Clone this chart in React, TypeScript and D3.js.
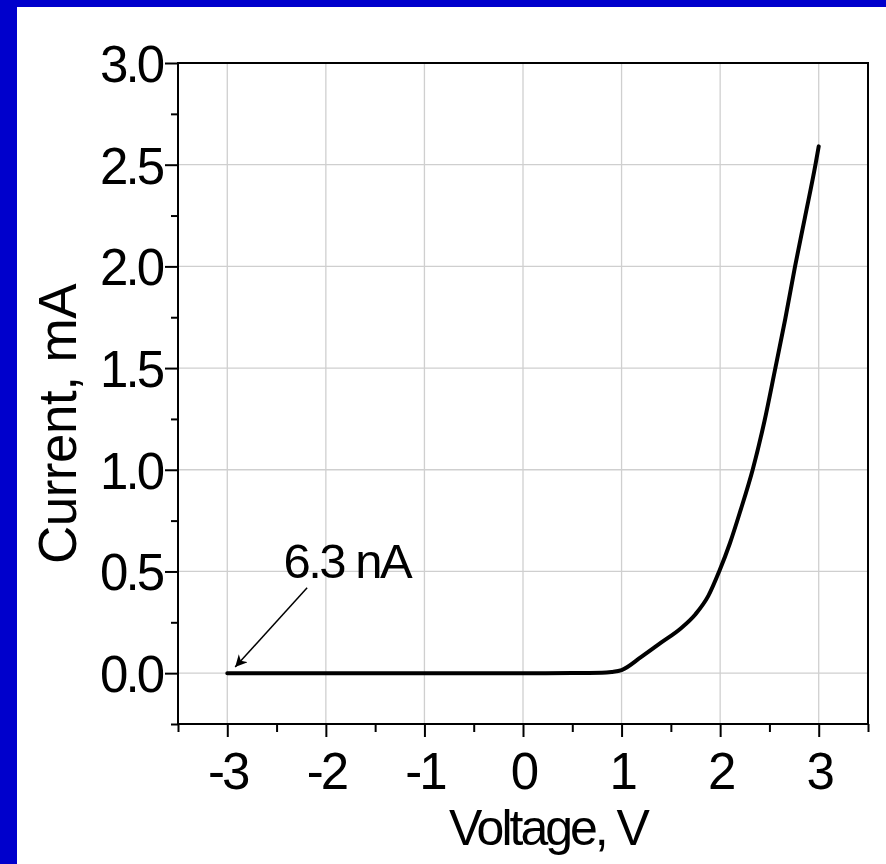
import { useEffect, useRef } from 'react'
import * as d3 from 'd3'

// I-V curve (V, mA)
const voltage = [-3, -2, -1, 0, 0.5, 0.8, 0.9, 1.0, 1.2, 1.4, 1.6, 1.75, 1.88, 1.99, 2.1, 2.2, 2.33, 2.45, 2.56, 2.66, 2.76, 2.86, 2.967, 3.0]
const current = [0, 0, 0, 0, 0.0005, 0.002, 0.006, 0.015, 0.08, 0.15, 0.22, 0.29, 0.38, 0.5, 0.64, 0.79, 1.0, 1.24, 1.5, 1.74, 2.0, 2.24, 2.5, 2.59]

const xTicks = [-3, -2, -1, 0, 1, 2, 3]
const yTicks = [0, 0.5, 1.0, 1.5, 2.0, 2.5, 3.0]

const annotationText = '6.3 nA'
const annotationAt = [-2.43, 0.47] // text start (V, mA)
const arrowFrom = [-2.19, 0.42]
const arrowTo = [-2.92, 0.03]

const W = 886
const H = 864
const FONT = '"Liberation Sans", Arial, sans-serif'

export default function App() {
  const svgRef = useRef<SVGSVGElement | null>(null)

  useEffect(() => {
    const svg = d3.select(svgRef.current)
    svg.selectAll('*').remove()

    const margin = { top: 63, right: 18, bottom: 140, left: 178 }
    const innerW = W - margin.left - margin.right
    const innerH = H - margin.top - margin.bottom

    const x = d3.scaleLinear().domain([-3.5, 3.5]).range([0, innerW])
    const y = d3.scaleLinear().domain([-0.25, 3.0]).range([innerH, 0])

    // background + blue frame strips
    svg.append('rect').attr('width', W).attr('height', H).attr('fill', '#fff')
    svg.append('rect').attr('x', 0).attr('y', 0).attr('width', W).attr('height', 7).attr('fill', '#0000cc')
    svg.append('rect').attr('x', 0).attr('y', 0).attr('width', 17).attr('height', H).attr('fill', '#0000cc')

    const g = svg.append('g').attr('transform', `translate(${margin.left},${margin.top})`)

    // grid
    g.append('g')
      .selectAll('line')
      .data(xTicks)
      .join('line')
      .attr('x1', (d) => x(d)).attr('x2', (d) => x(d))
      .attr('y1', 0).attr('y2', innerH)
      .attr('stroke', '#cfcfcf').attr('stroke-width', 1.3)
    g.append('g')
      .selectAll('line')
      .data(yTicks)
      .join('line')
      .attr('x1', 0).attr('x2', innerW)
      .attr('y1', (d) => y(d)).attr('y2', (d) => y(d))
      .attr('stroke', '#cfcfcf').attr('stroke-width', 1.3)

    // minor ticks
    const xMinor = d3.range(-3.5, 3.51, 0.5).filter((d) => !xTicks.includes(d))
    const yMinor = d3.range(-0.25, 3.0, 0.25).filter((d) => !yTicks.some((t) => Math.abs(t - d) < 1e-6))

    g.append('g')
      .attr('transform', `translate(0,${innerH})`)
      .call(d3.axisBottom(x).tickValues(xMinor).tickSize(8).tickFormat(() => ''))
      .call((ax) => ax.select('.domain').remove())
      .call((ax) => ax.selectAll('.tick line').attr('stroke', '#000').attr('stroke-width', 2))
    g.append('g')
      .call(d3.axisLeft(y).tickValues(yMinor).tickSize(7).tickFormat(() => ''))
      .call((ax) => ax.select('.domain').remove())
      .call((ax) => ax.selectAll('.tick line').attr('stroke', '#000').attr('stroke-width', 2))

    // major axes
    g.append('g')
      .attr('transform', `translate(0,${innerH})`)
      .call(d3.axisBottom(x).tickValues(xTicks).tickSize(13).tickPadding(16).tickFormat((d) => d3.format('d')(d as number).replace('−', '-')))
      .call((ax) => ax.select('.domain').remove())
      .call((ax) => ax.selectAll('.tick line').attr('stroke', '#000').attr('stroke-width', 2))
      .call((ax) => ax.selectAll('text')
        .attr('fill', '#000').attr('font-size', 51).attr('font-family', FONT)
        .attr('letter-spacing', '-3px').attr('dy', '0.71em'))

    g.append('g')
      .call(d3.axisLeft(y).tickValues(yTicks).tickSize(13).tickPadding(3).tickFormat((d) => (d as number).toFixed(1)))
      .call((ax) => ax.select('.domain').remove())
      .call((ax) => ax.selectAll('.tick line').attr('stroke', '#000').attr('stroke-width', 2))
      .call((ax) => ax.selectAll('text')
        .attr('fill', '#000').attr('font-size', 51).attr('font-family', FONT)
        .attr('letter-spacing', '-3px').attr('dy', '0.36em'))

    // frame
    g.append('rect')
      .attr('width', innerW).attr('height', innerH)
      .attr('fill', 'none').attr('stroke', '#000').attr('stroke-width', 2)

    // curve
    const pts = voltage.map((v, i) => [v, current[i]] as [number, number])
    g.append('path')
      .datum(pts)
      .attr('fill', 'none')
      .attr('stroke', '#000')
      .attr('stroke-width', 4)
      .attr('stroke-linecap', 'round')
      .attr('stroke-linejoin', 'round')
      .attr('d', d3.line().x((d) => x(d[0])).y((d) => y(d[1])).curve(d3.curveMonotoneX))

    // annotation
    svg.append('defs').append('marker')
      .attr('id', 'arrow')
      .attr('viewBox', '0 0 10 10')
      .attr('refX', 10).attr('refY', 5)
      .attr('markerWidth', 12).attr('markerHeight', 12)
      .attr('markerUnits', 'userSpaceOnUse')
      .attr('orient', 'auto')
      .append('path')
      .attr('d', 'M0,0 L10,5 L0,10 L3,5 Z')
      .attr('fill', '#000')

    g.append('line')
      .attr('x1', x(arrowFrom[0])).attr('y1', y(arrowFrom[1]))
      .attr('x2', x(arrowTo[0])).attr('y2', y(arrowTo[1]))
      .attr('stroke', '#000').attr('stroke-width', 1.5)
      .attr('marker-end', 'url(#arrow)')

    g.append('text')
      .attr('x', x(annotationAt[0])).attr('y', y(annotationAt[1]))
      .attr('font-size', 49).attr('font-family', FONT).attr('letter-spacing', '-2.5px')
      .attr('fill', '#000')
      .text(annotationText)

    // axis titles
    svg.append('text')
      .attr('x', 548).attr('y', 845)
      .attr('text-anchor', 'middle')
      .attr('font-size', 50).attr('font-family', FONT).attr('letter-spacing', '-3px')
      .attr('fill', '#000')
      .text('Voltage, V')

    svg.append('text')
      .attr('transform', `translate(76,424) rotate(-90)`)
      .attr('text-anchor', 'middle')
      .attr('font-size', 53).attr('font-family', FONT).attr('letter-spacing', '-0.5px')
      .attr('fill', '#000')
      .text('Current, mA')
  }, [])

  return (
    <div style={{ position: 'absolute', left: 0, top: 0, width: W, height: H }}>
      <svg ref={svgRef} width={W} height={H} style={{ display: 'block' }} />
    </div>
  )
}
